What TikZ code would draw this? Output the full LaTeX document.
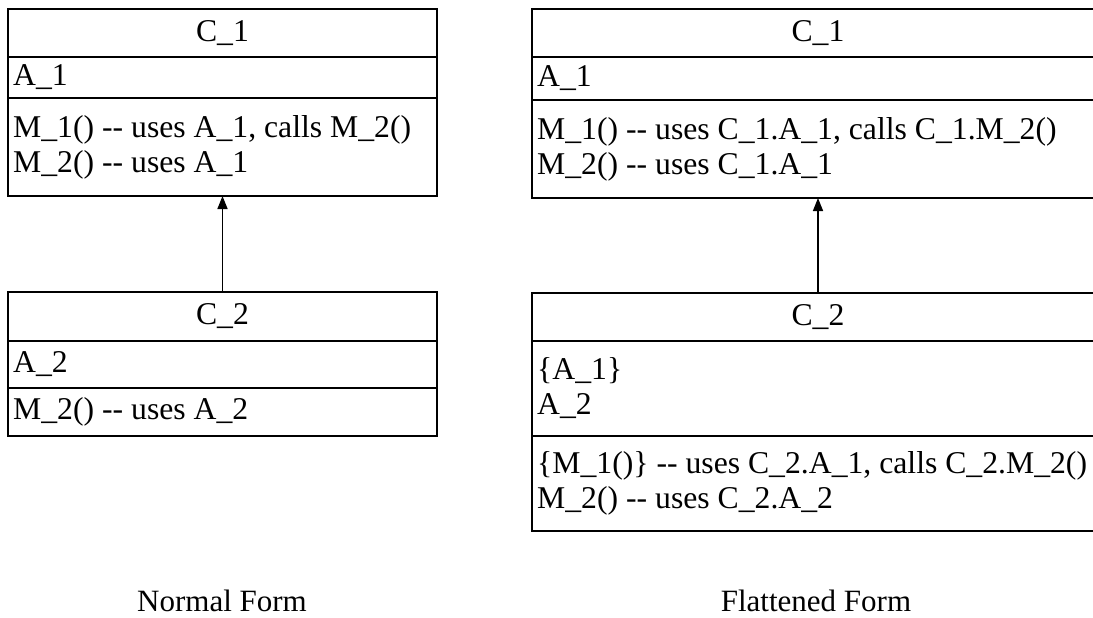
\documentclass[tikz,border=0pt]{standalone}
\usepackage{fontspec}
\setmainfont{Liberation Serif}
\usetikzlibrary{arrows.meta}
\newcommand\hh{\mbox{-}\mbox{-}}
\begin{document}
\begin{tikzpicture}[x=1pt,y=1pt,
  every node/.style={font=\fontsize{31.7}{35}\selectfont},
  box/.style={draw, line width=1.5pt, inner sep=0pt, outer sep=0pt, anchor=north west},
  lbox/.style={box, minimum width=429pt},
  rbox/.style={box, minimum width=572pt},
  txt/.style={anchor=west, inner sep=0pt, align=left},
  inh/.style={line width=1.5pt, -{Triangle[length=13pt,width=10pt]}},
  lbl/.style={inner sep=0pt, font=\fontsize{31}{35}\selectfont}]
\clip (0,0) rectangle (1093,-618);
% ---- Normal form ----
\node[lbox, minimum height=48pt] (l1n) at (8,-9) {C\_1};
\node[lbox, minimum height=41pt] (l1a) at (l1n.south west) {};
\node[lbox, minimum height=98pt] (l1m) at (l1a.south west) {};
\node[txt] (l1at) at ([xshift=5pt]l1a.west) {A\_1};
\node[txt] (l1mt) at ([xshift=5pt]l1m.west) {M\_1() \hh{} uses A\_1, calls M\_2()\\M\_2() \hh{} uses A\_1};

\node[lbox, minimum height=49pt] (l2n) at (8,-292) {C\_2};
\node[lbox, minimum height=47pt] (l2a) at (l2n.south west) {};
\node[lbox, minimum height=48pt] (l2m) at (l2a.south west) {};
\node[txt] (l2at) at ([xshift=5pt]l2a.west) {A\_2};
\node[txt] (l2mt) at ([xshift=5pt]l2m.west) {M\_2() \hh{} uses A\_2};

\draw[inh] (l2n.north) -- (l1m.south);

% ---- Flattened form ----
\node[rbox, minimum height=48pt] (r1n) at (532,-9) {C\_1};
\node[rbox, minimum height=43pt] (r1a) at (r1n.south west) {};
\node[rbox, minimum height=98pt] (r1m) at (r1a.south west) {};
\node[txt] (r1at) at ([xshift=5pt]r1a.west) {A\_1};
\node[txt] (r1mt) at ([xshift=5pt]r1m.west) {M\_1() \hh{} uses C\_1.A\_1, calls C\_1.M\_2()\\M\_2() \hh{} uses C\_1.A\_1};

\node[rbox, minimum height=48pt] (r2n) at (532,-293) {C\_2};
\node[rbox, minimum height=95pt] (r2a) at (r2n.south west) {};
\node[rbox, minimum height=95pt] (r2m) at (r2a.south west) {};
\node[txt] (r2at) at ([xshift=5pt]r2a.west) {\{A\_1\}\\A\_2};
\node[txt] (r2mt) at ([xshift=5pt]r2m.west) {\{M\_1()\} \hh{} uses C\_2.A\_1, calls C\_2.M\_2()\\M\_2() \hh{} uses C\_2.A\_2};

\draw[inh] (r2n.north) -- (r1m.south);

% ---- captions ----
\node[lbl] (nf) at (222,-601) {Normal Form};
\node[lbl] (ff) at (816,-601) {Flattened Form};
\end{tikzpicture}
\end{document}
